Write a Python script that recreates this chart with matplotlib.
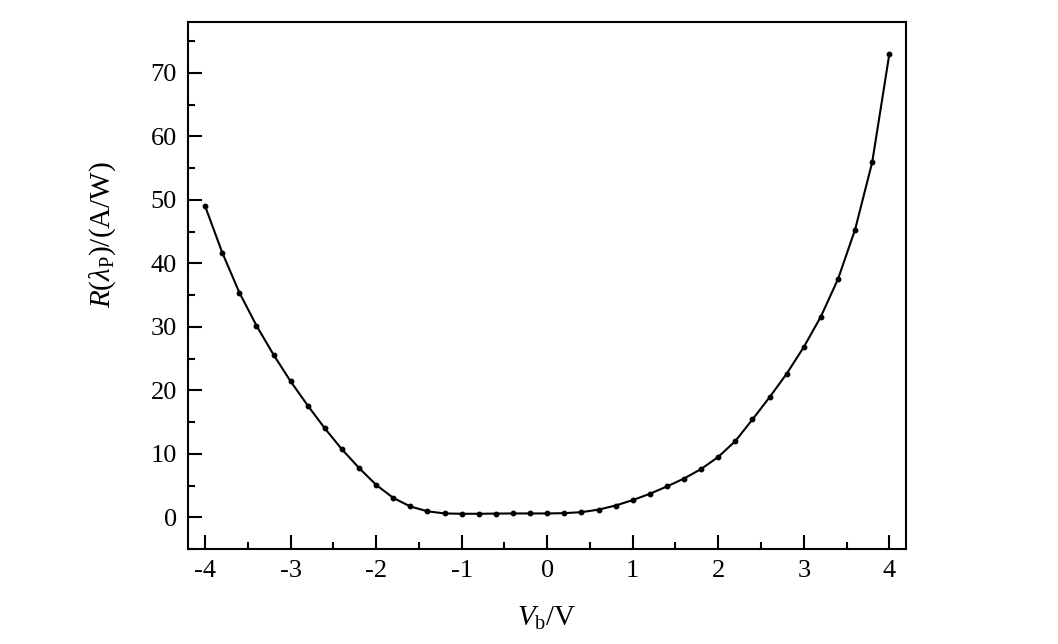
import numpy as np
import matplotlib.pyplot as plt
from matplotlib.ticker import MultipleLocator

plt.rcParams['font.family'] = ['Liberation Serif', 'DejaVu Serif']
plt.rcParams['mathtext.fontset'] = 'custom'
plt.rcParams['mathtext.rm'] = 'Liberation Serif'
plt.rcParams['mathtext.it'] = 'Liberation Serif:italic'

# 偏压 (V)
vb = np.round(np.arange(-4.0, 4.01, 0.2), 1)
# 峰值响应率 (A/W)
resp = [49.0, 41.7, 35.4, 30.2, 25.6, 21.4, 17.6, 14.0, 10.7, 7.76,
        5.1, 3.05, 1.7, 0.94, 0.6, 0.55, 0.55, 0.58, 0.6, 0.6,
        0.6, 0.65, 0.8, 1.2, 1.85, 2.7, 3.7, 4.85, 6.1, 7.6,
        9.5, 12.0, 15.4, 18.9, 22.6, 26.8, 31.6, 37.5, 45.3, 55.9,
        72.9]

fig = plt.figure(figsize=(10.58, 6.44), dpi=100)
ax = fig.add_axes([0.1777, 0.1475, 0.679, 0.8183])

ax.plot(vb, resp, color='black', linewidth=1.5, marker='o', markersize=3.2)

ax.set_xlim(-4.2, 4.2)
ax.set_ylim(-5, 78)
ax.xaxis.set_major_locator(MultipleLocator(1))
ax.xaxis.set_minor_locator(MultipleLocator(0.5))
ax.yaxis.set_major_locator(MultipleLocator(10))
ax.yaxis.set_minor_locator(MultipleLocator(5))
ax.set_xticks(range(-4, 5))
ax.set_xticklabels([str(v) for v in range(-4, 5)])

ax.tick_params(which='both', direction='in', top=False, right=False,
               labelsize=19, width=1.5, pad=8)
ax.tick_params(which='major', length=10)
ax.tick_params(which='minor', length=5)
for s in ax.spines.values():
    s.set_linewidth(1.5)

ax.set_xlabel(r'$\mathit{V}_{\mathrm{b}}\mathrm{/V}$', fontsize=21, labelpad=16)
ax.set_ylabel(r'$\mathit{R}\mathrm{(}\mathit{\lambda}_{\mathrm{P}}\mathrm{)/(A/W)}$', fontsize=21)
ax.yaxis.set_label_coords(-0.097, 0.596)

fig.savefig('out.png', dpi=100)
